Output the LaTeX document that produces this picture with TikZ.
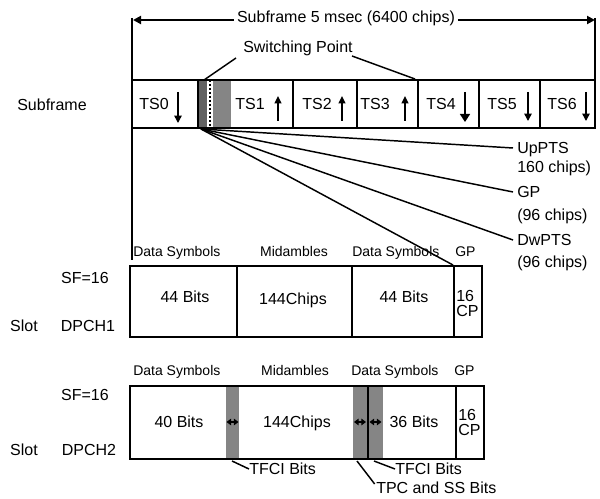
\documentclass[tikz,border=0pt]{standalone}
\usepackage{fontspec}
\setmainfont{Liberation Sans}
\usetikzlibrary{arrows.meta}
\begin{document}
\begin{tikzpicture}[x=0.75pt,y=-0.75pt,
  box/.style={line width=1.5pt},
  thin/.style={line width=1.1pt},
  lbl/.style={font=\fontsize{12}{14}\selectfont, inner sep=0pt, text height=8.6pt, text depth=0pt},
  sml/.style={font=\fontsize{10.5}{12}\selectfont, inner sep=0pt, text height=7.5pt, text depth=0pt},
  bigtip/.style={-{Triangle[length=6pt,width=6pt]}},
  uptip/.style={-{Triangle[length=5.5pt,width=5pt]}},
  dntip/.style={-{Triangle[length=5.5pt,width=5.5pt]}},
  mini/.style={line width=0.8pt, {Triangle[length=3.5pt,width=5pt]}-{Triangle[length=3.5pt,width=5pt]}},
  grey/.style={fill=black!48},
]
\useasboundingbox (0,0) rectangle (600,499);

% ---- top span arrow
\node[lbl] (title) at (346,17) {Subframe 5 msec (6400 chips)};
\coordinate (tl) at (133,20);
\coordinate (tr) at (595,20);
\draw[box, bigtip] ([xshift=-2pt]title.west |- tl) -- (tl);
\draw[box, bigtip] ([xshift=2pt]title.east |- tr) -- (tr);
\draw[box] (132,18) -- (132,260);
\draw[box] (595,18) -- (595,80);

% ---- subframe
\node[lbl] (sublbl) at (52,105) {Subframe};
\fill[black!62] (198,80) rectangle (207,128);
\fill[black!48] (213,80) rectangle (231,128);
\draw[line width=1pt, dash pattern=on 1.5pt off 1.5pt] (210,80) -- (210,128);
\draw[box] (132,80) rectangle (595,128);
\foreach \x in {198,293,357,418,479,540} \draw[box] (\x,80) -- (\x,128);

\node[lbl] (ts0) at (154,104) {TS0};
\node[lbl] (ts1) at (250,104) {TS1};
\node[lbl] (ts2) at (317,104) {TS2};
\node[lbl] (ts3) at (375,104) {TS3};
\node[lbl] (ts4) at (441,104) {TS4};
\node[lbl] (ts5) at (502,104) {TS5};
\node[lbl] (ts6) at (562,104) {TS6};
\draw[thin, dntip] (178,92) -- (178,123);
\draw[thin, uptip] (278,121) -- (278,96);
\draw[thin, uptip] (342,121) -- (342,96);
\draw[thin, uptip] (405,121) -- (405,96);
\draw[thin, -{Triangle[length=6pt,width=7.5pt]}] (465,92) -- (465,122);
\draw[thin, dntip] (528,92) -- (528,121);
\draw[thin, dntip] (586,92) -- (586,121);

% ---- switching point
\node[lbl, anchor=west] (swp) at (243,47) {Switching Point};
\coordinate (swa) at (236,58);
\coordinate (swl) at (204,80);
\coordinate (swb) at (352,56);
\coordinate (swr) at (415,79);
\draw[thin] (swa) -- (swl);
\draw[thin] (swb) -- (swr);

% ---- fan lines
\coordinate (fan) at (201,129);
\node[lbl, anchor=west] (uppts) at (517,148) {UpPTS};
\node[lbl, anchor=west] (upc) at (517,167) {160 chips)};
\node[lbl, anchor=west] (gp) at (517,192) {GP};
\node[lbl, anchor=west] (gpc) at (517,215) {(96 chips)};
\node[lbl, anchor=west] (dw) at (517,240) {DwPTS};
\node[lbl, anchor=west] (dwc) at (517,262) {(96 chips)};
\coordinate (gpcorner) at (453,265);
\draw[thin] (fan) -- ([xshift=-3pt]uppts.west);
\draw[thin] (fan) -- ([xshift=-3pt]gp.west);
\draw[thin] (fan) -- ([xshift=-3pt]dw.west);
\draw[thin] (fan) -- (gpcorner);

% ---- DPCH1
\node[sml, anchor=west] (d1a) at (133,252) {Data Symbols};
\node[sml] (d1m) at (294,252) {Midambles};
\node[sml, anchor=west] (d1b) at (352,252) {Data Symbols};
\node[sml, anchor=west] (d1g) at (455,252) {GP};
\draw[box] (130,266) rectangle (482,337);
\foreach \x in {237,352,454} \draw[box] (\x,266) -- (\x,337);
\node[lbl] (b1a) at (185,297) {44 Bits};
\node[lbl] (b1m) at (293,299) {144Chips};
\node[lbl] (b1b) at (404,297) {44 Bits};
\node[lbl, anchor=west] (b1g1) at (456,296) {16};
\node[lbl, anchor=west] (b1g2) at (456,311) {CP};
\node[lbl] (sf1) at (85,278) {SF=16};
\node[lbl] (slot1) at (24,326) {Slot};
\node[lbl] (dp1) at (88,326) {DPCH1};

% ---- DPCH2
\node[sml, anchor=west] (d2a) at (133,370) {Data Symbols};
\node[sml] (d2m) at (295,370) {Midambles};
\node[sml, anchor=west] (d2b) at (351,370) {Data Symbols};
\node[sml, anchor=west] (d2g) at (454,370) {GP};
\fill[grey] (226,386) rectangle (239,459);
\fill[grey] (353,386) rectangle (383,459);
\draw[box] (130,386) rectangle (484,459);
\draw[box] (456,386) -- (456,459);
\draw[thin] (368,386) -- (368,459);
\draw[mini] (226.5,422) -- (238.5,422);
\draw[mini] (354,422) -- (366,422);
\draw[mini] (369.5,422) -- (381.5,422);
\node[lbl] (b2a) at (179,422) {40 Bits};
\node[lbl] (b2m) at (297,422) {144Chips};
\node[lbl] (b2b) at (414,422) {36 Bits};
\node[lbl, anchor=west] (b2g1) at (458,415) {16};
\node[lbl, anchor=west] (b2g2) at (458,430) {CP};
\node[lbl] (sf2) at (85,395) {SF=16};
\node[lbl] (slot2) at (24,450) {Slot};
\node[lbl] (dp2) at (89,450) {DPCH2};

% ---- TFCI / TPC callouts
\node[lbl, anchor=west] (tfci1) at (249,469) {TFCI Bits};
\node[lbl, anchor=west] (tfci2) at (395,469) {TFCI Bits};
\node[lbl, anchor=west] (tpc) at (376,488) {TPC and SS Bits};
\coordinate (t1a) at (232,461);
\coordinate (t2a) at (374,461);
\coordinate (t3a) at (357,461);
\draw[thin] (t1a) -- (tfci1.west);
\draw[thin] (t2a) -- (tfci2.west);
\draw[thin] (t3a) -- ([xshift=-1pt,yshift=3pt]tpc.west);
\end{tikzpicture}
\end{document}
